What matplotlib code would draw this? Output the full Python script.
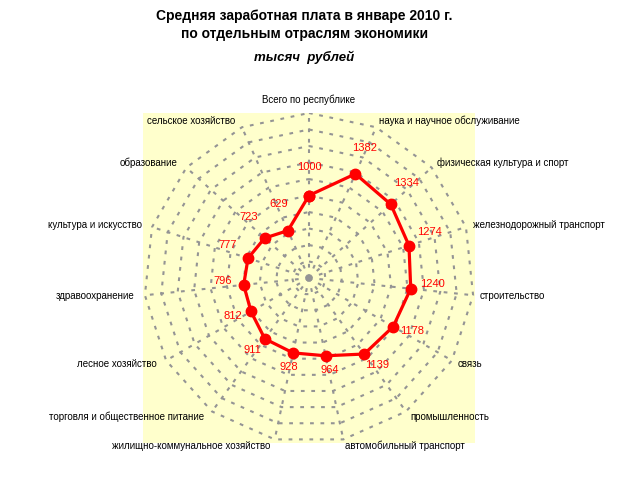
import numpy as np
import matplotlib
matplotlib.use('Agg')
from matplotlib import pyplot as plt

plt.rcParams['font.family'] = ['Liberation Sans', 'DejaVu Sans']

# отрасли по часовой стрелке, начиная сверху
otrasli = ['Всего по республике',
           'наука и научное обслуживание',
           'физическая культура и спорт',
           'железнодорожный транспорт',
           'строительство',
           'связь',
           'промышленность',
           'автомобильный транспорт',
           'жилищно-коммунальное хозяйство',
           'торговля и общественное питание',
           'лесное хозяйство',
           'здравоохранение',
           'культура и искусство',
           'образование',
           'сельское хозяйство']
zarplata = [1000, 1382, 1334, 1274, 1240, 1178, 1139, 964,
            928, 911, 812, 796, 777, 723, 629]
kolca = [200, 400, 600, 800, 1000, 1200, 1400, 1600, 1800, 2000]

n = len(otrasli)
ugly = np.deg2rad(90 - 360.0 / n * np.arange(n))
cx, sy = np.cos(ugly), np.sin(ugly)

fig = plt.figure(figsize=(6.25, 4.82), dpi=100)
ax = fig.add_axes([143/625, 39/482, 332/625, 330/482])
ax.set_facecolor('#FFFFCC')
ax.set_xlim(-2012, 2012)
ax.set_ylim(-2000, 2000)
for s in ax.spines.values():
    s.set_visible(False)
ax.set_xticks([])
ax.set_yticks([])

seryi = '#949494'
stil = (0, (1.8, 3.2))
# сетка: многоугольники и лучи
for r in kolca:
    ax.plot(np.append(r * cx, r * cx[0]), np.append(r * sy, r * sy[0]),
            color=seryi, lw=1.5, ls=stil)
rmax = kolca[-1]
for i in range(n):
    ax.plot([0, rmax * cx[i]], [0, rmax * sy[i]], color=seryi, lw=1.5, ls=stil)

# подписи отраслей
R = 2085
for i in range(n):
    if abs(cx[i]) < 0.05:
        ax.text(0, 2158, otrasli[i], ha='center', va='center', fontsize=7, clip_on=False)
    elif cx[i] > 0:
        ax.text(R * cx[i], R * sy[i], otrasli[i], ha='left', va='center',
                fontsize=7, clip_on=False)
    else:
        ax.text(R * cx[i] - 40, R * sy[i], otrasli[i], ha='right', va='center',
                fontsize=7, clip_on=False)

z = np.array(zarplata)
ax.plot(np.append(z * cx, z[0] * cx[0]), np.append(z * sy, z[0] * sy[0]),
        color='red', lw=2.3, marker='o', ms=7.5, clip_on=False)

for i in range(n):
    rr = zarplata[i] + 260
    ax.text(rr * cx[i], rr * sy[i] + 80, str(zarplata[i]), color='red',
            ha='center', va='center', fontsize=8)

fig.text(0.487, 0.967, 'Средняя заработная плата в январе 2010 г.',
         ha='center', va='center', fontsize=10, fontweight='bold')
fig.text(0.487, 0.930, 'по отдельным отраслям экономики',
         ha='center', va='center', fontsize=10, fontweight='bold')
fig.text(0.487, 0.881, 'тысяч  рублей', ha='center', va='center',
         fontsize=9.5, fontweight='bold', style='italic')

plt.savefig('out.png', dpi=100)
